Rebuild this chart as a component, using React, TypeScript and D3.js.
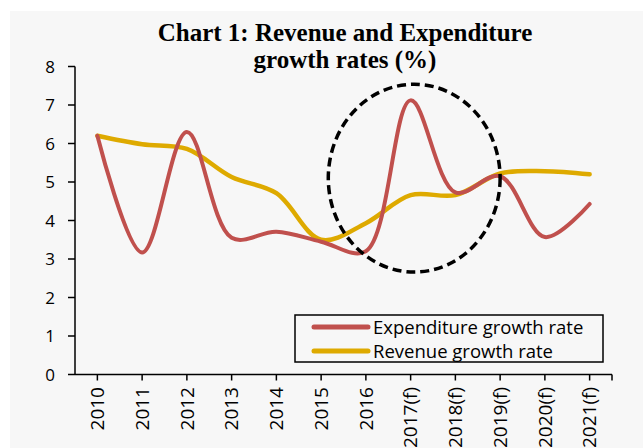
import React from "react";
import * as d3 from "d3";

const categories = ["2010","2011","2012","2013","2014","2015","2016","2017(f)","2018(f)","2019(f)","2020(f)","2021(f)"];
const expenditure = [6.2, 3.17, 6.3, 3.55, 3.71, 3.45, 3.2, 7.12, 4.73, 5.15, 3.57, 4.43];
const revenue = [6.2, 5.98, 5.86, 5.13, 4.71, 3.5, 3.93, 4.66, 4.66, 5.22, 5.28, 5.2];
const yTicks = [0, 1, 2, 3, 4, 5, 6, 7, 8];
const seriesNames = ["Expenditure growth rate", "Revenue growth rate"];
const titleLines = ["Chart 1: Revenue and Expenditure", "growth rates (%)"];
// highlight ellipse around the forecast spike (data coords)
const highlight = { category: "2017(f)", value: 5.1, rxSteps: 1.92, ryUnits: 2.44, offsetSteps: 0.08 };

const W = 643, H = 448;
const RED = "#C0504D";
const GOLD = "#DEAA00";
const FONT = "'Open Sans', sans-serif";

export default function App() {
  const x = d3.scalePoint<string>().domain(categories).range([75, 612]).padding(0.5);
  const y = d3.scaleLinear().domain([0, 8]).range([374.5, 66.5]);
  const step = x.step();
  const line = d3.line<number>()
    .x((_, i) => x(categories[i]) as number)
    .y((d) => y(d))
    .curve(d3.curveCatmullRom.alpha(0.5));

  const ecx = (x(highlight.category) as number) + highlight.offsetSteps * step;
  const ecy = y(highlight.value);
  const erx = highlight.rxSteps * step;
  const ery = y(0) - y(highlight.ryUnits);

  return (
    <svg width={W} height={H} style={{ position: "absolute", left: 0, top: 0 }}>
      <rect x={10} y={11} width={W - 10} height={H - 11} fill="#f7f7f7" />
      {titleLines.map((t, i) => (
        <text key={i} x={345} y={41 + i * 27} textAnchor="middle"
          fontFamily="'Liberation Serif', serif" fontWeight="bold" fontSize={25} fill="#000">{t}</text>
      ))}
      {/* y axis */}
      <line x1={75} x2={75} y1={y(8)} y2={y(0)} stroke="#000" strokeWidth={1.5} />
      {yTicks.map((t) => (
        <g key={t}>
          <line x1={68} x2={75} y1={y(t)} y2={y(t)} stroke="#000" strokeWidth={1.5} />
          <text x={55} y={y(t)} dy="0.36em" textAnchor="end" fontFamily={FONT} fontSize={17} fill="#000">{t}</text>
        </g>
      ))}
      {/* x axis */}
      <line x1={75} x2={612} y1={y(0)} y2={y(0)} stroke="#000" strokeWidth={1.5} />
      {categories.map((c) => (
        <line key={"t" + c} x1={x(c)} x2={x(c)} y1={y(0)} y2={y(0) + 6} stroke="#000" strokeWidth={1.5} />
      ))}
      <line x1={612} x2={612} y1={y(0)} y2={y(0) + 6} stroke="#000" strokeWidth={1.5} />
      {categories.map((c) => (
        <text key={"l" + c} transform={`translate(${x(c)},387) rotate(-90)`} dy="0.36em" textAnchor="end"
          fontFamily={FONT} fontSize={19} fill="#000">{c}</text>
      ))}
      {/* series */}
      <path d={line(revenue) || ""} fill="none" stroke={GOLD} strokeWidth={4.5} strokeLinecap="round" strokeLinejoin="round" />
      <path d={line(expenditure) || ""} fill="none" stroke={RED} strokeWidth={4} strokeLinecap="round" strokeLinejoin="round" />
      {/* highlight ellipse */}
      <ellipse cx={ecx} cy={ecy} rx={erx} ry={ery} fill="none" stroke="#000" strokeWidth={3.5} strokeDasharray="9,5" />
      {/* legend */}
      <rect x={295} y={315} width={308} height={47} fill="#f7f7f7" stroke="#000" strokeWidth={1.5} />
      {seriesNames.map((n, i) => (
        <g key={n}>
          <line x1={314} x2={368} y1={327 + i * 24} y2={327 + i * 24} stroke={i === 0 ? RED : GOLD} strokeWidth={5} strokeLinecap="round" />
          <text x={373} y={327 + i * 24} dy="0.36em" fontFamily={FONT} fontSize={18.5} fill="#000">{n}</text>
        </g>
      ))}
    </svg>
  );
}
